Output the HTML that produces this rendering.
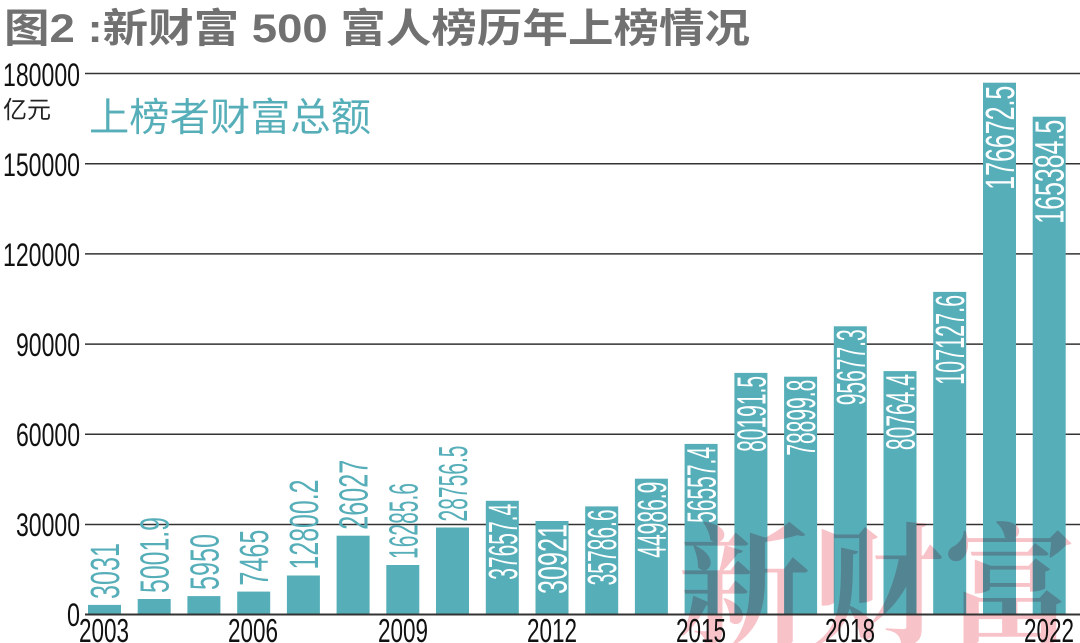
<!DOCTYPE html>
<html><head><meta charset="utf-8"><style>
html,body{margin:0;padding:0;background:#fff;}
svg{display:block;}
.n{font-family:"Liberation Sans",sans-serif;font-size:41px;}
</style></head><body>
<svg width="1080" height="643" viewBox="0 0 1080 643" xmlns="http://www.w3.org/2000/svg">
<text x="4" y="42" font-family="Liberation Sans,'Noto Sans CJK SC',sans-serif" font-weight="bold" font-size="40" fill="#717171" textLength="746" lengthAdjust="spacingAndGlyphs">图2 :新财富 500 富人榜历年上榜情况</text>
<g stroke="#333" stroke-width="1.5">
<line x1="85" y1="73.5" x2="1080" y2="73.5"/>
<line x1="85" y1="163.7" x2="1080" y2="163.7"/>
<line x1="85" y1="253.9" x2="1080" y2="253.9"/>
<line x1="85" y1="344.1" x2="1080" y2="344.1"/>
<line x1="85" y1="434.3" x2="1080" y2="434.3"/>
<line x1="85" y1="524.5" x2="1080" y2="524.5"/>
</g>
<g font-family="Liberation Sans,sans-serif" font-size="32" fill="#111" text-anchor="end">
<text x="80" y="86" textLength="77" lengthAdjust="spacingAndGlyphs">180000</text>
<text x="80" y="176" textLength="77" lengthAdjust="spacingAndGlyphs">150000</text>
<text x="80" y="266" textLength="77" lengthAdjust="spacingAndGlyphs">120000</text>
<text x="80" y="356" textLength="64" lengthAdjust="spacingAndGlyphs">90000</text>
<text x="80" y="446" textLength="64" lengthAdjust="spacingAndGlyphs">60000</text>
<text x="80" y="536" textLength="64" lengthAdjust="spacingAndGlyphs">30000</text>
<text x="80" y="626" textLength="13" lengthAdjust="spacingAndGlyphs">0</text>
</g>
<text x="3" y="118" font-family="'Noto Sans CJK SC',sans-serif" font-size="24" fill="#222">亿元</text>
<text x="89" y="131" font-family="'Noto Sans CJK SC',sans-serif" font-size="39" fill="#56aeb9" textLength="282" lengthAdjust="spacingAndGlyphs">上榜者财富总额</text>
<g fill="#56aeb9">
<rect x="88" y="604.9" width="33" height="9.1"/>
<rect x="137.7" y="599" width="33" height="15"/>
<rect x="187.4" y="596.1" width="33" height="17.9"/>
<rect x="237.2" y="591.6" width="33" height="22.4"/>
<rect x="286.9" y="575.5" width="33" height="38.5"/>
<rect x="336.6" y="535.7" width="33" height="78.3"/>
<rect x="386.3" y="565" width="33" height="49"/>
<rect x="436" y="527.5" width="33" height="86.5"/>
<rect x="485.8" y="500.8" width="33" height="113.2"/>
<rect x="535.5" y="521" width="33" height="93"/>
<rect x="585.2" y="506.4" width="33" height="107.6"/>
<rect x="634.9" y="478.7" width="33" height="135.3"/>
<rect x="684.6" y="443.9" width="33" height="170.1"/>
<rect x="734.4" y="372.9" width="33" height="241.1"/>
<rect x="784.1" y="376.7" width="33" height="237.3"/>
<rect x="833.8" y="326.3" width="33" height="287.7"/>
<rect x="883.5" y="371.1" width="33" height="242.9"/>
<rect x="933.2" y="291.9" width="33" height="322.1"/>
<rect x="983" y="82.7" width="33" height="531.3"/>
<rect x="1032.7" y="116.7" width="33" height="497.3"/>
</g>
<g class="n" fill="#56aeb9">
<text transform="translate(119,599) rotate(-90)" textLength="56" lengthAdjust="spacingAndGlyphs">3031</text>
<text transform="translate(168.7,593) rotate(-90)" textLength="76" lengthAdjust="spacingAndGlyphs">5001.9</text>
<text transform="translate(218.4,590) rotate(-90)" textLength="56" lengthAdjust="spacingAndGlyphs">5950</text>
<text transform="translate(268.2,585.6) rotate(-90)" textLength="56" lengthAdjust="spacingAndGlyphs">7465</text>
<text transform="translate(317.9,569.5) rotate(-90)" textLength="90" lengthAdjust="spacingAndGlyphs">12800.2</text>
<text transform="translate(367.6,529.7) rotate(-90)" textLength="70" lengthAdjust="spacingAndGlyphs">26027</text>
<text transform="translate(417.3,559) rotate(-90)" textLength="76" lengthAdjust="spacingAndGlyphs">16285.6</text>
<text transform="translate(467,521.5) rotate(-90)" textLength="76" lengthAdjust="spacingAndGlyphs">28756.5</text>
</g>
<g class="n" fill="#fff" text-anchor="end">
<text transform="translate(516.8,503.8) rotate(-90)" textLength="76" lengthAdjust="spacingAndGlyphs">37657.4</text>
<text transform="translate(566.5,524) rotate(-90)" textLength="70" lengthAdjust="spacingAndGlyphs">30921</text>
<text transform="translate(616.2,509.4) rotate(-90)" textLength="76" lengthAdjust="spacingAndGlyphs">35786.6</text>
<text transform="translate(665.9,481.7) rotate(-90)" textLength="76" lengthAdjust="spacingAndGlyphs">44986.9</text>
<text transform="translate(715.6,446.9) rotate(-90)" textLength="76" lengthAdjust="spacingAndGlyphs">56557.4</text>
<text transform="translate(765.4,375.9) rotate(-90)" textLength="76" lengthAdjust="spacingAndGlyphs">80191.5</text>
<text transform="translate(815.1,379.7) rotate(-90)" textLength="76" lengthAdjust="spacingAndGlyphs">78899.8</text>
<text transform="translate(864.8,329.3) rotate(-90)" textLength="76" lengthAdjust="spacingAndGlyphs">95677.3</text>
<text transform="translate(914.5,374.1) rotate(-90)" textLength="76" lengthAdjust="spacingAndGlyphs">80764.4</text>
<text transform="translate(964.2,294.9) rotate(-90)" textLength="90" lengthAdjust="spacingAndGlyphs">107127.6</text>
<text transform="translate(1014,85.7) rotate(-90)" textLength="104" lengthAdjust="spacingAndGlyphs">176672.5</text>
<text transform="translate(1063.7,119.7) rotate(-90)" textLength="104" lengthAdjust="spacingAndGlyphs">165384.5</text>
</g>
<text x="678" y="634" font-family="'Noto Serif CJK SC',serif" font-weight="700" font-size="132" fill="#f7c2c8" style="mix-blend-mode:multiply" textLength="398" lengthAdjust="spacingAndGlyphs">新财富</text>
<line x1="85" y1="614.5" x2="1080" y2="614.5" stroke="#333" stroke-width="2"/>
<g font-family="Liberation Sans,sans-serif" font-size="33" fill="#111" text-anchor="middle">
<text x="104" y="642" textLength="50" lengthAdjust="spacingAndGlyphs">2003</text>
<text x="253" y="642" textLength="50" lengthAdjust="spacingAndGlyphs">2006</text>
<text x="403" y="642" textLength="50" lengthAdjust="spacingAndGlyphs">2009</text>
<text x="552" y="642" textLength="50" lengthAdjust="spacingAndGlyphs">2012</text>
<text x="701" y="642" textLength="50" lengthAdjust="spacingAndGlyphs">2015</text>
<text x="850" y="642" textLength="50" lengthAdjust="spacingAndGlyphs">2018</text>
<text x="1049" y="642" textLength="50" lengthAdjust="spacingAndGlyphs">2022</text>
</g>
</svg>
</body></html>
